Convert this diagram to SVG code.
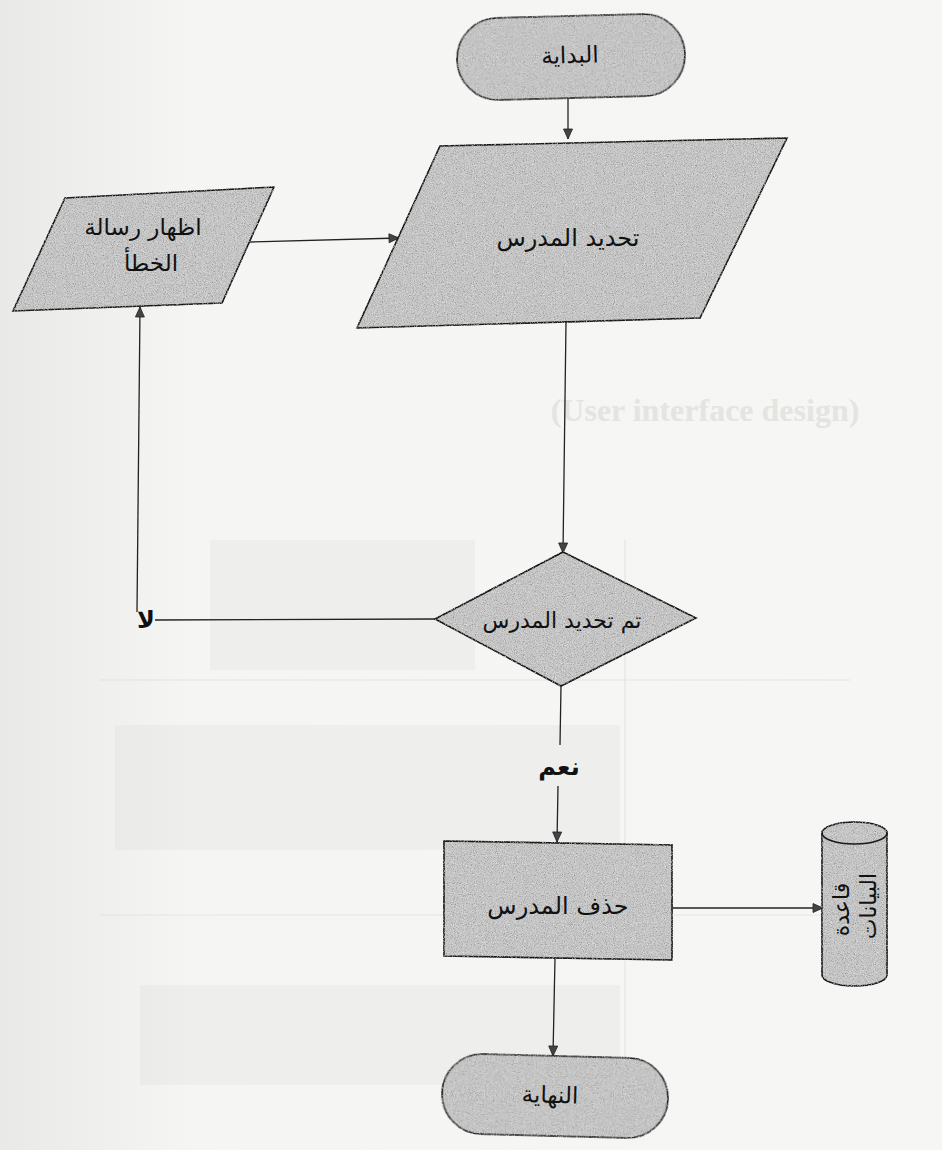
<svg xmlns="http://www.w3.org/2000/svg" width="942" height="1150" viewBox="0 0 942 1150">
  <defs>
    <linearGradient id="paper" x1="0" y1="0" x2="1" y2="0">
      <stop offset="0" stop-color="#e9e9e7"/>
      <stop offset="0.12" stop-color="#f0f0ee"/>
      <stop offset="0.2" stop-color="#f5f5f3"/>
      <stop offset="1" stop-color="#f6f6f4"/>
    </linearGradient>
    <!-- speckled grey texture for shape fills -->
    <filter id="grain" x="-2%" y="-2%" width="104%" height="104%">
      <feTurbulence type="fractalNoise" baseFrequency="0.9" numOctaves="2" seed="7" result="n"/>
      <feColorMatrix in="n" type="matrix" values="0 0 0 0 0  0 0 0 0 0  0 0 0 0 0  1.3 0 0 0 -0.6" result="dark"/>
      <feColorMatrix in="n" type="matrix" values="0 0 0 0 1  0 0 0 0 1  0 0 0 0 1  0 -1.3 0 0 0.62" result="light"/>
      <feComposite in="dark" in2="SourceAlpha" operator="in" result="darkIn"/>
      <feComposite in="light" in2="SourceAlpha" operator="in" result="lightIn"/>
      <feMerge>
        <feMergeNode in="SourceGraphic"/>
        <feMergeNode in="darkIn"/>
        <feMergeNode in="lightIn"/>
      </feMerge>
    </filter>
    <marker id="arrow" viewBox="0 0 12 12" refX="11" refY="6" markerWidth="12" markerHeight="12" markerUnits="userSpaceOnUse" orient="auto">
      <path d="M1,1.5 L11,6 L1,10.5 Z" fill="#444" stroke="#222" stroke-width="0.8"/>
    </marker>
  </defs>
  <style>
    .shape { fill: #c8c8c8; stroke: #1a1a1a; stroke-width: 1.6; filter: url(#grain); }
    .lbl { font-family: "DejaVu Sans", "Liberation Sans", sans-serif; fill: #111; text-anchor: middle; dominant-baseline: central; }
    .edge { fill: none; stroke: #222; stroke-width: 1.3; }
    .tag { font-family: "DejaVu Sans", "Liberation Sans", sans-serif; font-weight: bold; fill: #111; text-anchor: middle; dominant-baseline: central; font-size: 24px; }
    .faint { fill: #dcdcda; opacity: 0.28; }
    .faintline { stroke: #d4d4d2; stroke-width: 1.2; opacity: 0.5; }
  </style>

  <!-- page -->
  <rect x="0" y="0" width="942" height="1150" fill="url(#paper)"/>

  <!-- show-through from the reverse side of the sheet -->
  <g id="backdrop">
    <rect class="faint" x="210" y="540" width="265" height="130"/>
    <rect class="faint" x="115" y="725" width="505" height="125"/>
    <rect class="faint" x="140" y="985" width="480" height="100"/>
    <line class="faintline" x1="100" y1="680" x2="850" y2="680"/>
    <line class="faintline" x1="100" y1="915" x2="830" y2="915"/>
    <line class="faintline" x1="625" y1="540" x2="625" y2="1090"/>
    <text x="705" y="410" font-family="Liberation Serif, serif" font-weight="bold" font-size="32" fill="#e4e4e2" text-anchor="middle" dominant-baseline="central">(User interface design)</text>
  </g>

  <!-- connectors -->
  <g id="connectors">
    <line class="edge" x1="568" y1="97" x2="568" y2="139" marker-end="url(#arrow)"/>
    <line class="edge" x1="249" y1="242" x2="399" y2="238" marker-end="url(#arrow)"/>
    <line class="edge" x1="566" y1="322" x2="563" y2="553" marker-end="url(#arrow)"/>
    <polyline class="edge" points="435,619 155,620"/>
    <polyline class="edge" points="137,612 140,307" marker-end="url(#arrow)"/>
    <text class="tag" x="146" y="620">لا</text>
    <line class="edge" x1="561" y1="686" x2="560" y2="745"/>
    <text class="tag" x="559" y="767">نعم</text>
    <line class="edge" x1="558" y1="786" x2="557" y2="842" marker-end="url(#arrow)"/>
    <line class="edge" x1="672" y1="908" x2="823" y2="908" marker-end="url(#arrow)"/>
    <line class="edge" x1="555" y1="958" x2="553" y2="1056" marker-end="url(#arrow)"/>
  </g>

  <!-- start -->
  <g id="start" transform="rotate(-1.5 571 57)">
    <rect class="shape" x="457" y="16" width="228" height="82" rx="41" ry="41"/>
    <text class="lbl" x="570" y="55" font-size="23">البداية</text>
  </g>

  <!-- input: choose teacher -->
  <g id="select-teacher">
    <polygon class="shape" points="440,146 787,138 700,318 357,328"/>
    <text class="lbl" x="568" y="238" font-size="24">تحديد المدرس</text>
  </g>

  <!-- error message -->
  <g id="error-message">
    <polygon class="shape" points="65,198 274,187 222,303 13,311"/>
    <text class="lbl" x="143" y="227" font-size="23">اظهار رسالة</text>
    <text class="lbl" x="151" y="263" font-size="23">الخطأ</text>
  </g>

  <!-- decision -->
  <g id="decision">
    <polygon class="shape" points="563,552 696,618 561,686 435,619"/>
    <text class="lbl" x="562" y="620" font-size="22">تم تحديد المدرس</text>
  </g>

  <!-- process: delete teacher -->
  <g id="delete-teacher">
    <polygon class="shape" points="444,841 672,845 672,960 444,956"/>
    <text class="lbl" x="558" y="906" font-size="24">حذف المدرس</text>
  </g>

  <!-- database -->
  <g id="database">
    <path class="shape" d="M822,833 A32.5,11 0 0,1 887,833 L887,975 A32.5,11 0 0,1 822,975 Z"/>
    <path d="M822,833 A32.5,11 0 0,0 887,833" fill="none" stroke="#1a1a1a" stroke-width="1.6"/>
    <text class="lbl" font-size="22" transform="translate(854 906) rotate(-90)">
      <tspan x="0" y="-13">قاعدة</tspan>
      <tspan x="0" y="14">البيانات</tspan>
    </text>
  </g>

  <!-- end -->
  <g id="end" transform="rotate(1.5 555 1096)">
    <rect class="shape" x="442" y="1056" width="226" height="80" rx="40" ry="40"/>
    <text class="lbl" x="550" y="1095" font-size="23">النهاية</text>
  </g>
</svg>
